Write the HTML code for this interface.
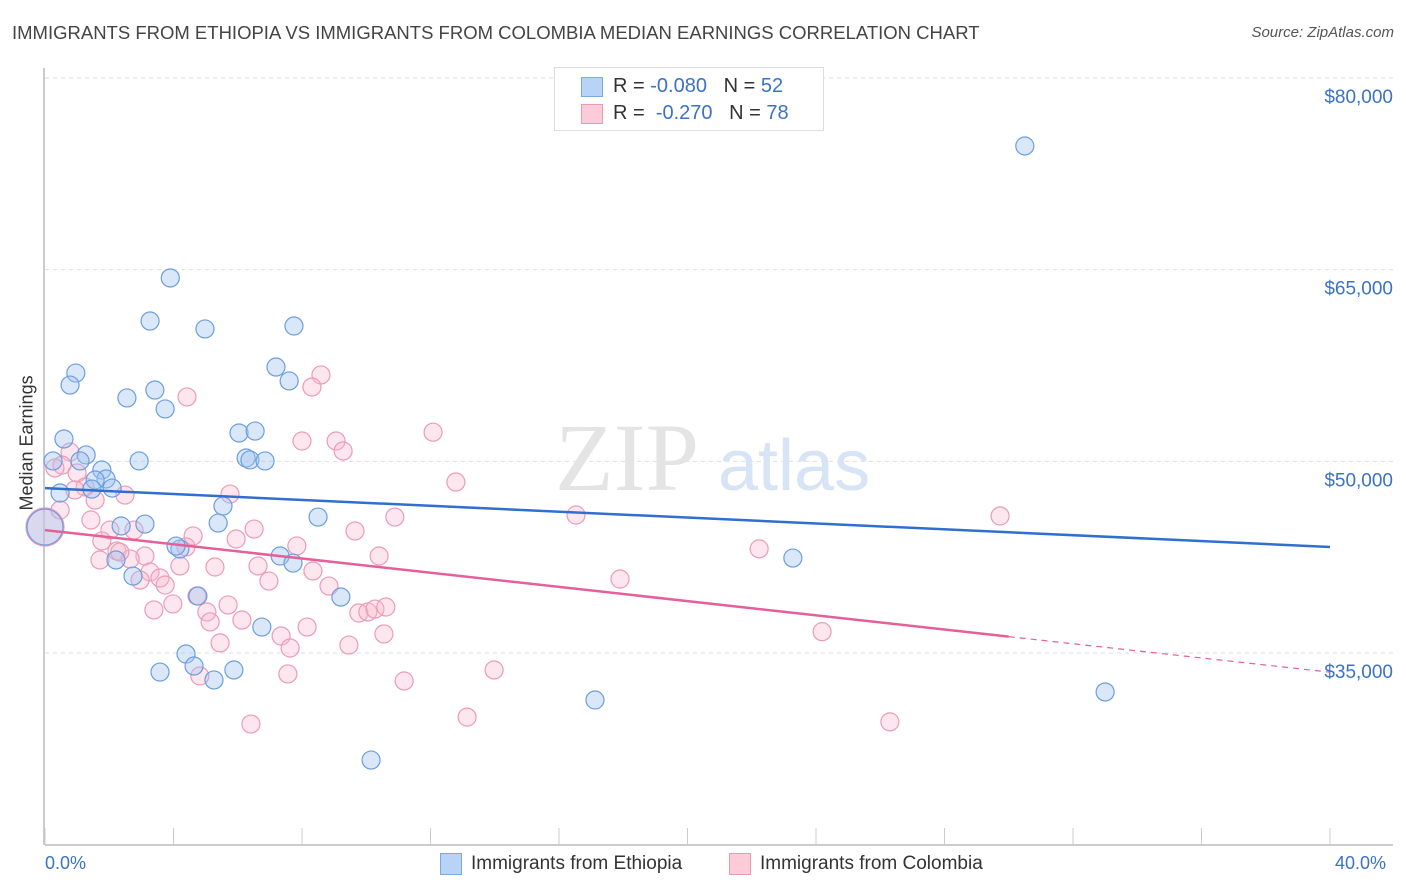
<!DOCTYPE html>
<html><head><meta charset="utf-8"><style>
body{margin:0;background:#fff;font-family:"Liberation Sans",sans-serif;}
#wrap{position:relative;width:1406px;height:892px;overflow:hidden;}
.t{position:absolute;white-space:nowrap;}
</style></head><body>
<div id="wrap">
<div class="t" style="left:12px;top:22px;font-size:18.5px;color:#444;">IMMIGRANTS FROM ETHIOPIA VS IMMIGRANTS FROM COLOMBIA MEDIAN EARNINGS CORRELATION CHART</div>
<div class="t" style="right:12px;top:24px;font-size:15px;color:#555;font-style:italic;">Source: ZipAtlas.com</div>
<div class="t" style="left:-28px;top:445px;font-size:18px;color:#333;transform:rotate(-90deg);transform-origin:center;width:110px;text-align:center;">Median Earnings</div>
<svg id="svg" width="1406" height="892" style="position:absolute;left:0;top:0"></svg>
<div style="position:absolute;left:554px;top:67px;width:268px;height:62px;border:1px solid #ddd;background:#fff;">
 <div style="position:absolute;left:26px;top:9px;width:20px;height:18px;background:#b8d3f5;border:1px solid #7aa8e0;"></div>
 <div class="t" style="left:58px;top:7px;font-size:20px;color:#333;">R = <span style="color:#3a72c8">-0.080</span>&nbsp;&nbsp;&nbsp;N = <span style="color:#3a72c8">52</span></div>
 <div style="position:absolute;left:26px;top:36px;width:20px;height:18px;background:#fbcbd9;border:1px solid #e89ab4;"></div>
 <div class="t" style="left:58px;top:34px;font-size:20px;color:#333;">R = &nbsp;<span style="color:#3a72c8">-0.270</span>&nbsp;&nbsp;&nbsp;N = <span style="color:#3a72c8">78</span></div>
</div>
<div class="t" style="left:45px;top:853px;font-size:18px;color:#3a72c8;">0.0%</div>
<div class="t" style="left:1335px;top:853px;font-size:18px;color:#3a72c8;">40.0%</div>
<div style="position:absolute;left:440px;top:853px;">
 <div style="position:absolute;left:0;top:0;width:20px;height:20px;background:#b8d3f5;border:1px solid #7aa8e0;"></div>
 <div class="t" style="left:31px;top:0;font-size:19px;color:#333;">Immigrants from Ethiopia</div></div>
<div style="position:absolute;left:729px;top:853px;">
 <div style="position:absolute;left:0;top:0;width:20px;height:20px;background:#fbcbd9;border:1px solid #e89ab4;"></div>
 <div class="t" style="left:31px;top:0;font-size:19px;color:#333;">Immigrants from Colombia</div></div>
</div>
<script>
const yTicks=[80000,65000,50000,35000];
const yTickLabels=["$80,000","$65,000","$50,000","$35,000"];
const xTicks=[0,4,8,12,16,20,24,28,32,36,40];
const ethX=[30.5,3.9,3.27,4.98,7.75,0.96,0.78,7.19,7.6,3.42,2.55,3.74,0.59,6.04,6.54,1.28,1.09,0.25,2.93,6.26,6.38,6.85,1.77,1.9,1.56,2.09,0.47,1.46,5.54,8.5,5.39,2.37,3.11,4.2,4.08,2.21,7.32,7.72,23.28,2.74,4.76,9.21,6.75,4.39,4.64,3.58,5.88,5.26,33.0,17.12,10.15,0];
const ethY=[74680,64350,60980,60360,60590,56910,55970,57380,56290,55580,54960,54100,51750,52220,52370,50500,50030,50030,50030,50260,50110,50030,49320,48620,48540,47910,47520,47830,46500,45640,45170,44940,45090,43140,43370,42280,42590,42040,42430,41020,39460,39380,37030,34920,33980,33510,33670,32890,31950,31320,26620,44860];
const colX=[0,0.78,0.53,1.0,0.31,1.25,0.93,1.56,1.43,2.49,2.02,2.77,1.77,2.24,3.11,2.65,2.33,3.27,3.58,3.74,4.2,4.61,4.39,3.39,3.98,5.04,5.14,5.45,4.82,4.42,5.76,6.51,5.95,6.13,5.7,5.29,6.97,6.63,7.35,7.63,7.84,8.16,8.0,8.34,7.56,6.41,8.59,8.31,9.06,9.28,9.65,8.84,9.46,10.4,9.77,10.05,10.27,10.61,10.55,10.89,11.18,12.08,12.79,13.14,13.98,16.53,17.9,22.23,24.19,26.3,29.73,2.96,4.73,0.47,1.71];
const colY=[44860,50730,49710,49090,49480,47990,47760,46970,45410,47360,44620,44620,43770,42980,42590,42360,42900,41340,40870,40320,41810,44160,43300,38370,38840,38210,37430,35790,33200,55040,47440,44700,43920,37580,38760,41730,40630,41810,36330,35390,43380,37030,51590,41420,33360,29440,56760,55820,51590,50810,44550,40240,35620,42590,38130,38210,38440,38600,36490,45640,32810,52280,48380,29980,33670,45800,40790,43150,36670,29610,45720,40710,39460,46190,42280];
const ethFit=[47900,-115];
const colFit=[44620,-278];
const sx=v=>45+v/40*1285;
const sy=v=>78+(80000-v)/45000*575;
const svg=document.getElementById('svg');
const NS='http://www.w3.org/2000/svg';
function mk(tag,attrs){const e=document.createElementNS(NS,tag);for(const k in attrs)e.setAttribute(k,attrs[k]);svg.appendChild(e);return e;}
yTicks.forEach((t,i)=>{
 const g=mk('line',{x1:45,x2:1393,y1:sy(t),y2:sy(t),stroke:'#ddd','stroke-dasharray':'4,4'});
 
 
 const tx=mk('text',{x:1393,y:sy(t)+25,'text-anchor':'end','font-size':19,fill:'#3a72c8','font-family':'Liberation Sans'});
 tx.textContent=yTickLabels[i];
 
 
});
const ax=mk('line',{x1:45,x2:1393,y1:845,y2:845,stroke:'#bbb','stroke-width':1.5});


const ay=mk('line',{x1:44,x2:44,y1:68,y2:845,stroke:'#bbb','stroke-width':1.5});


xTicks.forEach(t=>{
 const l=mk('line',{x1:sx(t),x2:sx(t),y1:828,y2:845,stroke:'#ccc'});
 
 
});
const wm=mk('text',{x:555,y:490,'font-size':96,fill:'#e4e4e4','font-family':'Liberation Serif'});
wm.textContent='ZIP';


const wm2=mk('text',{x:718,y:490,'font-size':72,fill:'#d6e4f5','font-family':'Liberation Sans'});
wm2.textContent='atlas';


colX.forEach((x,i)=>{
 const big=(i===0);
 const c=mk('circle',{cx:sx(x),cy:sy(colY[i]),r:big?19:9,fill:'rgba(248,182,202,0.35)',stroke:'#eb9bb7','stroke-width':1.2});
 
 
});
ethX.forEach((x,i)=>{
 const big=(i===ethX.length-1);
 const c=mk('circle',{cx:sx(x),cy:sy(ethY[i]),r:big?18:9,fill:'rgba(160,195,240,0.4)',stroke:'#6b9ee0','stroke-width':1.2});
 
 
});
const bl=mk('line',{x1:sx(0),y1:sy(ethFit[0]),x2:sx(40),y2:sy(ethFit[0]+ethFit[1]*40),stroke:'#2f6fd0','stroke-width':2.5});


const pl=mk('line',{x1:sx(0),y1:sy(colFit[0]),x2:sx(30),y2:sy(colFit[0]+colFit[1]*30),stroke:'#e4609a','stroke-width':2.5});


const pd=mk('line',{x1:sx(30),y1:sy(colFit[0]+colFit[1]*30),x2:sx(40),y2:sy(colFit[0]+colFit[1]*40),stroke:'#e4609a','stroke-width':1.2,'stroke-dasharray':'6,5'});


</script>
</body></html>
